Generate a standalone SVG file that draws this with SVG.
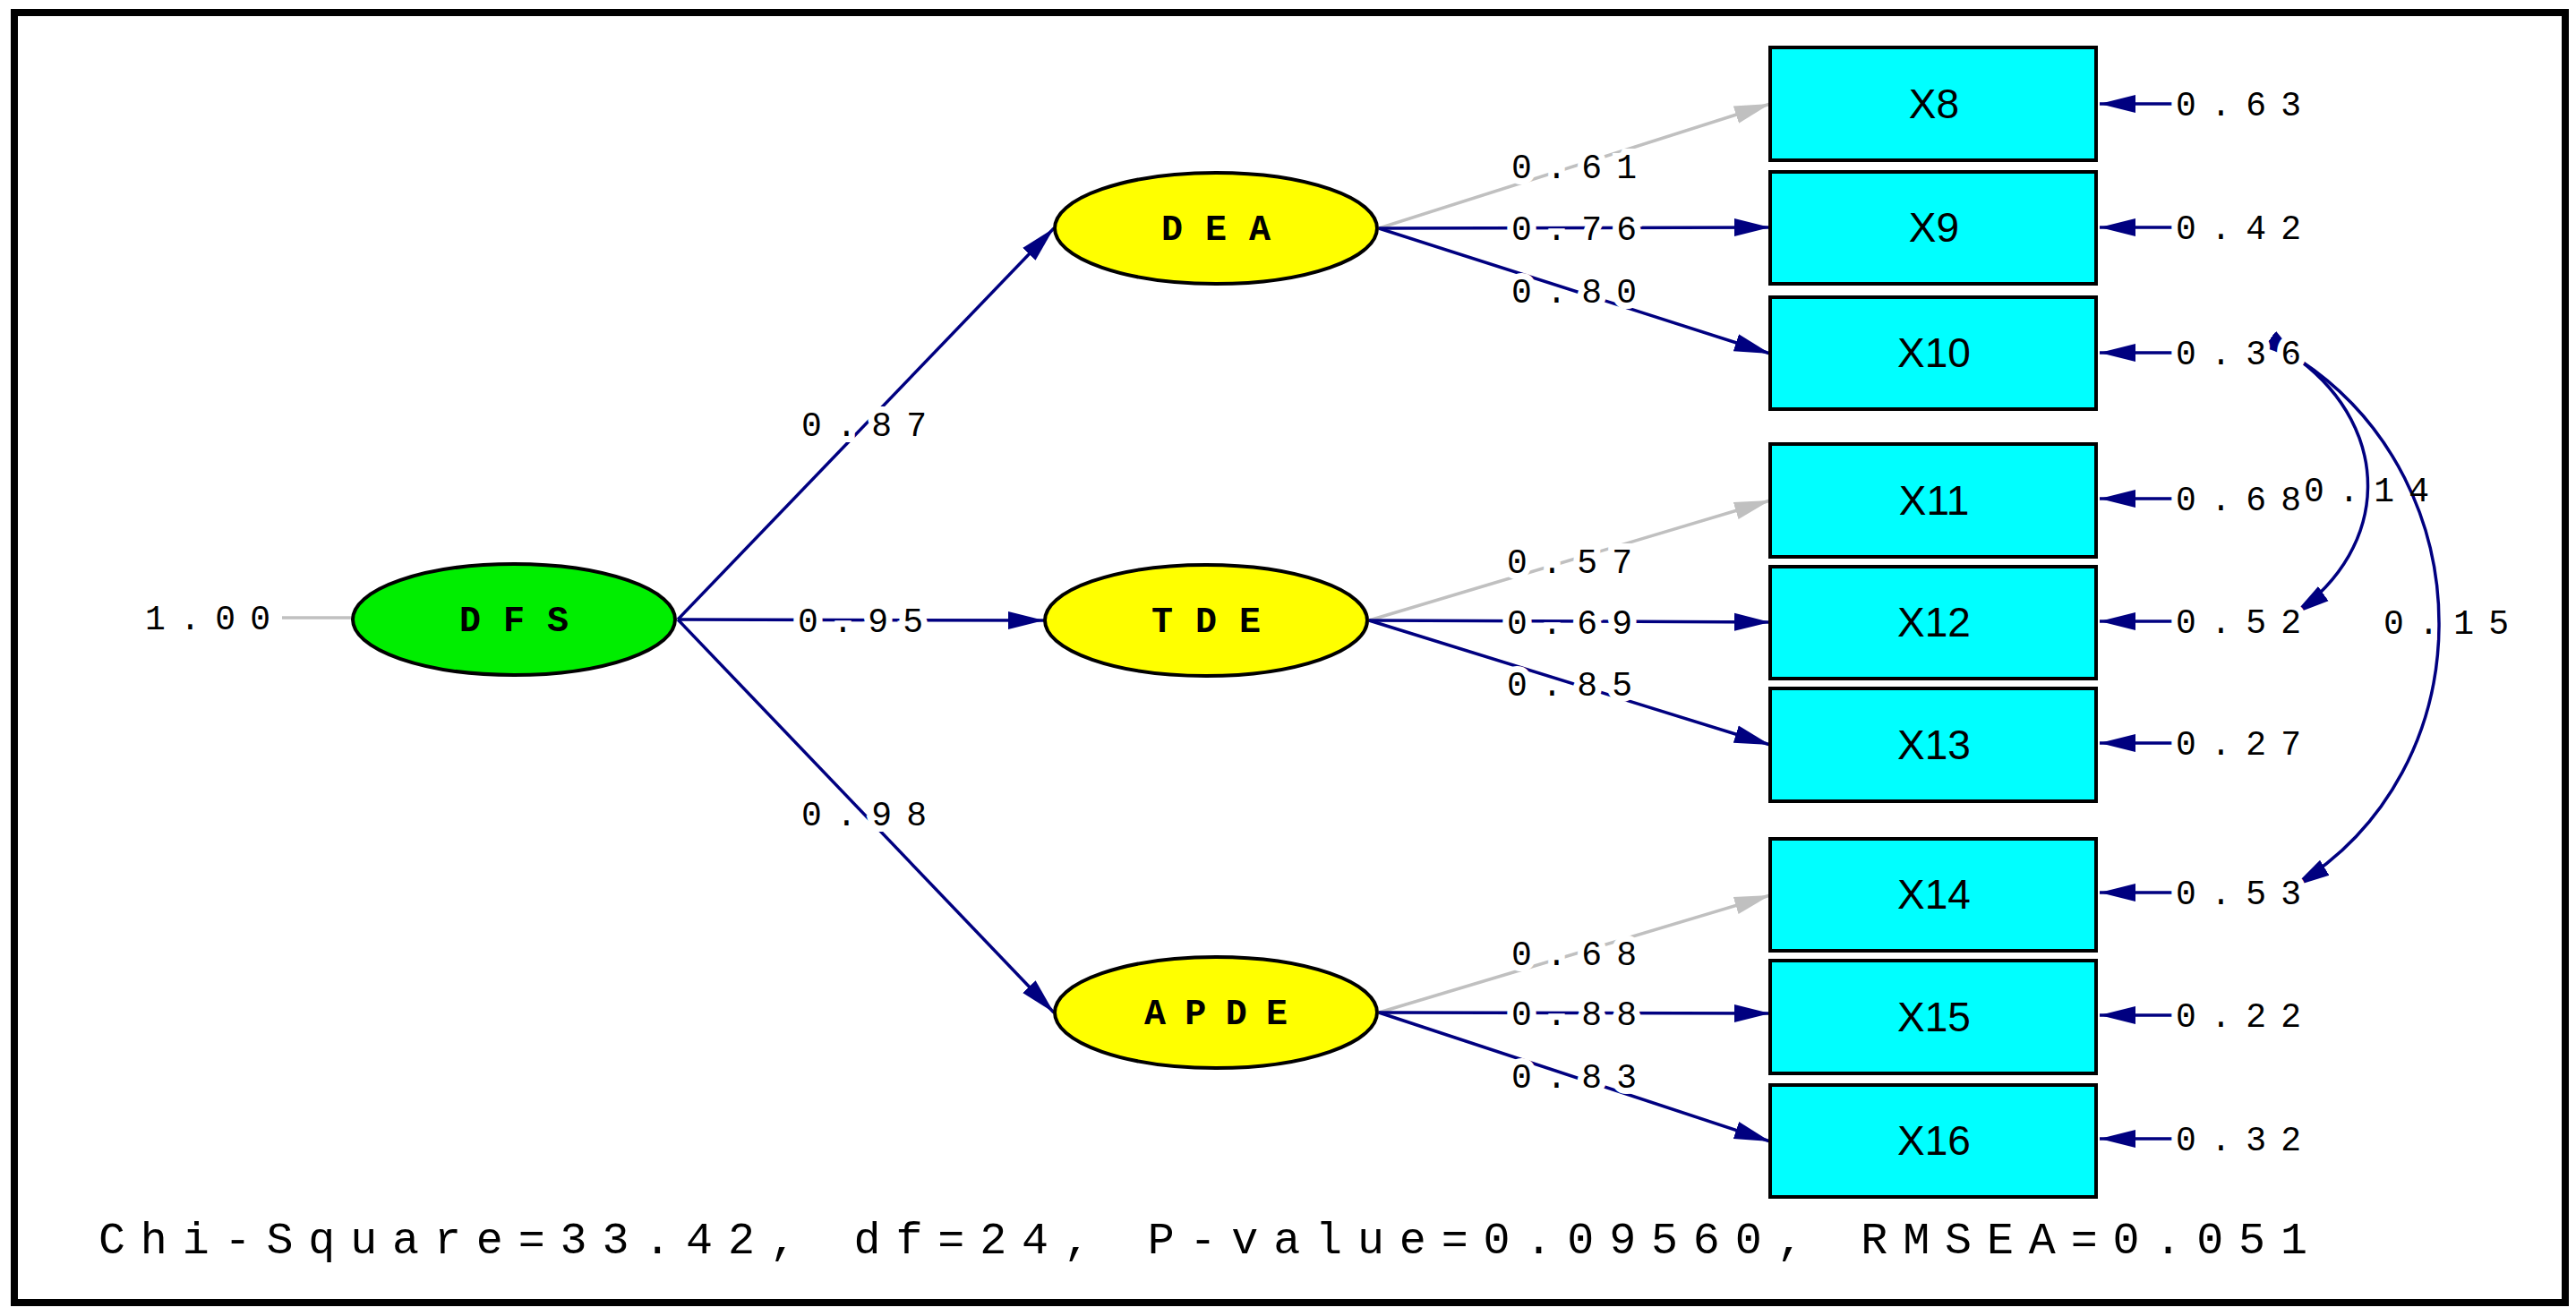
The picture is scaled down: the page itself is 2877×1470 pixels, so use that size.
<svg xmlns="http://www.w3.org/2000/svg" width="2877" height="1470" viewBox="0 0 2877 1470">
<style>
.lv{fill:#000;font-family:"Liberation Mono",monospace;font-size:38px;paint-order:stroke;stroke:#fff;stroke-width:14px}
.nav{stroke:#000080;stroke-width:3.5;fill:none}
.gry{stroke:#c0c0c0;stroke-width:3.5;fill:none}
.ell{stroke:#000;stroke-width:4}
.box{fill:#00ffff;stroke:#000;stroke-width:4}
.bt{font-family:"Liberation Sans",Arial,sans-serif;font-size:46px;text-anchor:middle;fill:#000}
.nt{font-family:"Liberation Mono",monospace;font-weight:bold;font-size:40px;text-anchor:middle;fill:#000}
</style>
<defs>
<marker id="an" markerWidth="12" markerHeight="8" refX="12" refY="4" orient="auto" markerUnits="userSpaceOnUse" viewBox="0 0 12 8"><path d="M0,0 L12,4 L0,8 Z" fill="#000080"/></marker>
<marker id="aN" viewBox="0 0 40 24" refX="40" refY="12" markerWidth="40" markerHeight="24" orient="auto" markerUnits="userSpaceOnUse"><path d="M0,2 L40,12 L0,22 Z" fill="#000080"/></marker>
<marker id="aG" viewBox="0 0 40 24" refX="40" refY="12" markerWidth="40" markerHeight="24" orient="auto" markerUnits="userSpaceOnUse"><path d="M0,2 L40,12 L0,22 Z" fill="#c0c0c0"/></marker>
<marker id="aS" viewBox="0 0 40 24" refX="0" refY="12" markerWidth="40" markerHeight="24" orient="auto-start-reverse" markerUnits="userSpaceOnUse"><path d="M0,12 L40,2 L40,22 Z" fill="#000080"/></marker>
</defs>
<rect x="0" y="0" width="2877" height="1470" fill="#fff"/>
<rect x="16" y="14" width="2849" height="1441" fill="none" stroke="#000" stroke-width="8"/>
<g id="connectors">
<line class="gry" x1="315" y1="690" x2="394" y2="690"/>
<line class="nav" x1="757" y1="692" x2="1177" y2="255" marker-end="url(#aN)"/>
<line class="nav" x1="757" y1="692" x2="1166" y2="693" marker-end="url(#aN)"/>
<line class="nav" x1="757" y1="692" x2="1177" y2="1131" marker-end="url(#aN)"/>
<line class="gry" x1="1540" y1="255" x2="1977" y2="116" marker-end="url(#aG)"/>
<line class="nav" x1="1540" y1="255" x2="1977" y2="254" marker-end="url(#aN)"/>
<line class="nav" x1="1540" y1="255" x2="1977" y2="395" marker-end="url(#aN)"/>
<line class="gry" x1="1529" y1="693" x2="1977" y2="559" marker-end="url(#aG)"/>
<line class="nav" x1="1529" y1="693" x2="1977" y2="695" marker-end="url(#aN)"/>
<line class="nav" x1="1529" y1="693" x2="1977" y2="832" marker-end="url(#aN)"/>
<line class="gry" x1="1540" y1="1131" x2="1977" y2="1000" marker-end="url(#aG)"/>
<line class="nav" x1="1540" y1="1131" x2="1977" y2="1132" marker-end="url(#aN)"/>
<line class="nav" x1="1540" y1="1131" x2="1977" y2="1275" marker-end="url(#aN)"/>
<g>
<line class="nav" x1="2428" y1="116" x2="2345" y2="116" marker-end="url(#aN)"/>
<line class="nav" x1="2428" y1="254" x2="2345" y2="254" marker-end="url(#aN)"/>
<line class="nav" x1="2428" y1="394" x2="2345" y2="394" marker-end="url(#aN)"/>
<line class="nav" x1="2428" y1="557" x2="2345" y2="557" marker-end="url(#aN)"/>
<line class="nav" x1="2428" y1="694" x2="2345" y2="694" marker-end="url(#aN)"/>
<line class="nav" x1="2428" y1="830" x2="2345" y2="830" marker-end="url(#aN)"/>
<line class="nav" x1="2428" y1="997" x2="2345" y2="997" marker-end="url(#aN)"/>
<line class="nav" x1="2428" y1="1134" x2="2345" y2="1134" marker-end="url(#aN)"/>
<line class="nav" x1="2428" y1="1272" x2="2345" y2="1272" marker-end="url(#aN)"/>
</g>
<path class="nav" d="M2568,402 C2671,480 2671,610 2562,686" marker-start="url(#aS)" marker-end="url(#aN)"/>
<path class="nav" d="M2568,402 C2777,540 2777,860 2562,990" marker-start="url(#aS)" marker-end="url(#aN)"/>
</g>
<g id="labels">
<text class="lv" x="162" y="703" textLength="140" lengthAdjust="spacing">1.00</text>
<text class="lv" x="895" y="487" textLength="140" lengthAdjust="spacing">0.87</text>
<text class="lv" x="891" y="706" textLength="140" lengthAdjust="spacing">0.95</text>
<text class="lv" x="895" y="922" textLength="140" lengthAdjust="spacing">0.98</text>
<text class="lv" x="1688" y="199" textLength="140" lengthAdjust="spacing">0.61</text>
<text class="lv" x="1688" y="268" textLength="140" lengthAdjust="spacing">0.76</text>
<text class="lv" x="1688" y="338" textLength="140" lengthAdjust="spacing">0.80</text>
<text class="lv" x="1683" y="640" textLength="140" lengthAdjust="spacing">0.57</text>
<text class="lv" x="1683" y="708" textLength="140" lengthAdjust="spacing">0.69</text>
<text class="lv" x="1683" y="777" textLength="140" lengthAdjust="spacing">0.85</text>
<text class="lv" x="1688" y="1078" textLength="140" lengthAdjust="spacing">0.68</text>
<text class="lv" x="1688" y="1145" textLength="140" lengthAdjust="spacing">0.88</text>
<text class="lv" x="1688" y="1215" textLength="140" lengthAdjust="spacing">0.83</text>
<text class="lv" x="2430" y="129" textLength="140" lengthAdjust="spacing">0.63</text>
<text class="lv" x="2430" y="267" textLength="140" lengthAdjust="spacing">0.42</text>
<text class="lv" x="2430" y="407" textLength="140" lengthAdjust="spacing">0.36</text>
<text class="lv" x="2430" y="570" textLength="140" lengthAdjust="spacing">0.68</text>
<text class="lv" x="2430" y="707" textLength="140" lengthAdjust="spacing">0.52</text>
<text class="lv" x="2430" y="843" textLength="140" lengthAdjust="spacing">0.27</text>
<text class="lv" x="2430" y="1010" textLength="140" lengthAdjust="spacing">0.53</text>
<text class="lv" x="2430" y="1147" textLength="140" lengthAdjust="spacing">0.22</text>
<text class="lv" x="2430" y="1285" textLength="140" lengthAdjust="spacing">0.32</text>
<text class="lv" x="2573" y="560" textLength="140" lengthAdjust="spacing" style="stroke:none">0.14</text>
<text class="lv" x="2662" y="708" textLength="140" lengthAdjust="spacing">0.15</text>
</g>
<g id="DFS"><ellipse class="ell" cx="574" cy="692" rx="180" ry="62" fill="#00ee00"/><text class="nt" x="574" y="705" textLength="122" lengthAdjust="spacing">DFS</text></g>
<g id="DEA"><ellipse class="ell" cx="1358" cy="255" rx="180" ry="62" fill="#ffff00"/><text class="nt" x="1358" y="268" textLength="122" lengthAdjust="spacing">DEA</text></g>
<g id="TDE"><ellipse class="ell" cx="1347" cy="693" rx="180" ry="62" fill="#ffff00"/><text class="nt" x="1347" y="706" textLength="122" lengthAdjust="spacing">TDE</text></g>
<g id="APDE"><ellipse class="ell" cx="1358" cy="1131" rx="180" ry="62" fill="#ffff00"/><text class="nt" x="1358" y="1144" textLength="160" lengthAdjust="spacing">APDE</text></g>
<g id="X8"><rect class="box" x="1977" y="53" width="364" height="126"/><text class="bt" x="2160" y="132">X8</text></g>
<g id="X9"><rect class="box" x="1977" y="192" width="364" height="125"/><text class="bt" x="2160" y="270">X9</text></g>
<g id="X10"><rect class="box" x="1977" y="332" width="364" height="125"/><text class="bt" x="2160" y="410">X10</text></g>
<g id="X11"><rect class="box" x="1977" y="496" width="364" height="126"/><text class="bt" x="2160" y="575">X11</text></g>
<g id="X12"><rect class="box" x="1977" y="633" width="364" height="125"/><text class="bt" x="2160" y="711">X12</text></g>
<g id="X13"><rect class="box" x="1977" y="769" width="364" height="126"/><text class="bt" x="2160" y="848">X13</text></g>
<g id="X14"><rect class="box" x="1977" y="937" width="364" height="125"/><text class="bt" x="2160" y="1015">X14</text></g>
<g id="X15"><rect class="box" x="1977" y="1073" width="364" height="126"/><text class="bt" x="2160" y="1152">X15</text></g>
<g id="X16"><rect class="box" x="1977" y="1212" width="364" height="125"/><text class="bt" x="2160" y="1290">X16</text></g>
<text x="110" y="1400" font-family="Liberation Mono,monospace" font-size="50" fill="#000" textLength="2467" lengthAdjust="spacing">Chi-Square=33.42, df=24, P-value=0.09560, RMSEA=0.051</text>
</svg>
